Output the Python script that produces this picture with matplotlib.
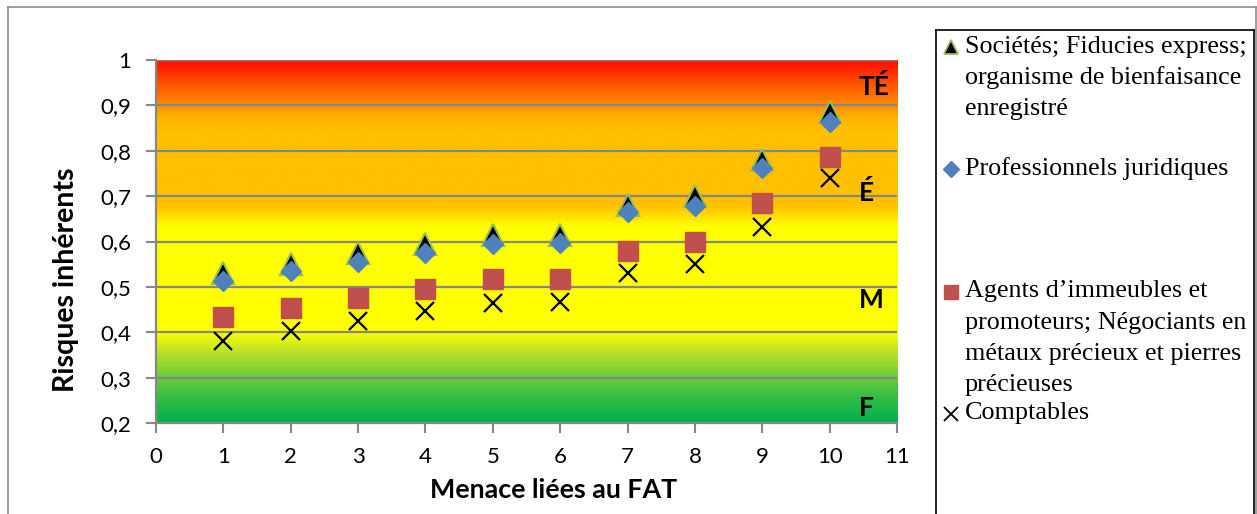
import matplotlib
matplotlib.use("Agg")
import matplotlib.pyplot as plt
import numpy as np
from matplotlib.colors import LinearSegmentedColormap
from matplotlib.lines import Line2D

# ---- data ----
menaces = [1, 2, 3, 4, 5, 6, 7, 8, 9, 10]
societes = [0.53, 0.55, 0.575, 0.595, 0.615, 0.615, 0.68, 0.70, 0.78, 0.885]
juridiques = [0.512, 0.534, 0.554, 0.574, 0.595, 0.596, 0.664, 0.679, 0.761, 0.864]
agents = [0.433, 0.453, 0.475, 0.496, 0.517, 0.517, 0.58, 0.60, 0.684, 0.787]
comptables = [0.381, 0.403, 0.424, 0.446, 0.465, 0.467, 0.53, 0.551, 0.633, 0.739]

labels = [
    "Sociétés; Fiducies express;\norganisme de bienfaisance\nenregistré",
    "Professionnels juridiques",
    "Agents d\u2019immeubles et\npromoteurs; Négociants en\nmétaux précieux et pierres\nprécieuses",
    "Comptables",
]
zones = ["TÉ", "É", "M", "F"]
zone_y = [0.941, 0.707, 0.47, 0.233]
yticks = [0.2, 0.3, 0.4, 0.5, 0.6, 0.7, 0.8, 0.9, 1.0]
ytick_labels = ["0,2", "0,3", "0,4", "0,5", "0,6", "0,7", "0,8", "0,9", "1"]
xticks = list(range(0, 12))

W, H = 1257, 514
fig = plt.figure(figsize=(W / 100, H / 100), dpi=100)
ax = fig.add_axes([156 / W, 1 - 423 / H, (897 - 156) / W, (423 - 60) / H])

# background gradient
stops = [
    (0.2, (0, 176, 80)),
    (0.25, (45, 188, 70)),
    (0.3, (110, 204, 58)),
    (0.35, (180, 222, 45)),
    (0.4, (255, 255, 0)),
    (0.633, (255, 255, 0)),
    (0.655, (255, 222, 0)),
    (0.68, (255, 192, 0)),
    (0.84, (255, 192, 0)),
    (0.87, (255, 180, 0)),
    (0.9, (255, 140, 0)),
    (0.95, (255, 80, 0)),
    (0.985, (255, 30, 0)),
    (1.0, (255, 20, 0)),
]
cmap = LinearSegmentedColormap.from_list(
    "zones", [((v - 0.2) / 0.8, tuple(c / 255 for c in col)) for v, col in stops])
grad = np.linspace(0.2, 1.0, 600).reshape(-1, 1)
ax.imshow(grad, extent=[0, 11, 0.2, 1.0], origin="lower", aspect="auto",
          cmap=cmap, vmin=0.2, vmax=1.0, zorder=0, interpolation="bilinear")

ax.set_xlim(0, 11)
ax.set_ylim(0.2, 1.0)
for y in yticks:
    ax.axhline(y, color="#878787", lw=1.6, zorder=1)

ax.plot(menaces, societes, ls="none", marker="^", ms=16, mfc="black",
        mec="#9BBB59", mew=1.5, zorder=3)
ax.plot(menaces, juridiques, ls="none", marker="D", ms=10.5, mfc="#4F81BD",
        mec="#4F81BD", zorder=4)
ax.plot(menaces, agents, ls="none", marker="s", ms=14, mfc="#C0504D",
        mec="#C0504D", zorder=4)
ax.plot(menaces, comptables, ls="none", marker="x", ms=13, mec="black",
        mew=1.6, zorder=4)

font = "Lato"
for t, y in zip(zones, zone_y):
    ax.text(10.43, y, t, ha="left", va="center", fontsize=19,
            fontweight="bold", family=font, zorder=5)

ax.set_xticks(xticks)
ax.set_xticklabels([str(x) for x in xticks], fontsize=16, family=font)
ax.set_yticks(yticks)
ax.set_yticklabels(ytick_labels, fontsize=16, family=font)
ax.tick_params(axis="both", direction="out", length=7, width=1.5,
               color="#878787")
ax.tick_params(axis="y", pad=11)
ax.tick_params(axis="x", pad=10)
for side in ["top", "right"]:
    ax.spines[side].set_visible(False)
for side in ["left", "bottom"]:
    ax.spines[side].set_color("#878787")
    ax.spines[side].set_linewidth(1.6)

ax.set_xlabel("Menace liées au FAT", fontsize=19.3, fontweight="bold",
              family=font)
ax.set_ylabel("Risques inhérents", fontsize=20.5, fontweight="bold",
              family=font)
ax.xaxis.set_label_coords((554 - 156) / 741, (423 - 478) / 363)
ax.yaxis.set_label_coords((79 - 156) / 741, (423 - 280) / 363)

# outer frame
def px(x, y):
    return x / W, 1 - y / H

fc = "#8C8C8C"
for (x0, y0), (x1, y1) in [((8, 520), (8, 7)), ((8, 7), (1256, 7)),
                           ((1256, 7), (1256, 520))]:
    a, b = px(x0, y0)
    c, d = px(x1, y1)
    fig.add_artist(Line2D([a, c], [b, d], color=fc, lw=1.2,
                          transform=fig.transFigure))

# legend box
for (x0, y0), (x1, y1) in [((936, 520), (936, 30)), ((936, 30), (1254, 30)),
                           ((1254, 30), (1254, 520))]:
    a, b = px(x0, y0)
    c, d = px(x1, y1)
    fig.add_artist(Line2D([a, c], [b, d], color="black", lw=1.2,
                          transform=fig.transFigure))

leg_markers = [
    dict(marker="^", ms=10, mfc="black", mec="#9BBB59", mew=1.3),
    dict(marker="D", ms=8.5, mfc="#4F81BD", mec="#4F81BD"),
    dict(marker="s", ms=10.5, mfc="#C0504D", mec="#C0504D"),
    dict(marker="x", ms=10, mec="black", mew=1.3),
]
entry_y = [46.5, 168.5, 291.5, 413.5]
line_step = 31.3
for lab, ey, mk in zip(labels, entry_y, leg_markers):
    mx, my = px(951, ey)
    fig.add_artist(Line2D([mx], [my], ls="none", transform=fig.transFigure, **mk))
    for i, line in enumerate(lab.split("\n")):
        tx, ty = px(965, ey + i * line_step)
        fig.text(tx, ty, line, ha="left", va="center", fontsize=18.8,
                 family="Liberation Serif")

fig.savefig("out.png", dpi=100)
